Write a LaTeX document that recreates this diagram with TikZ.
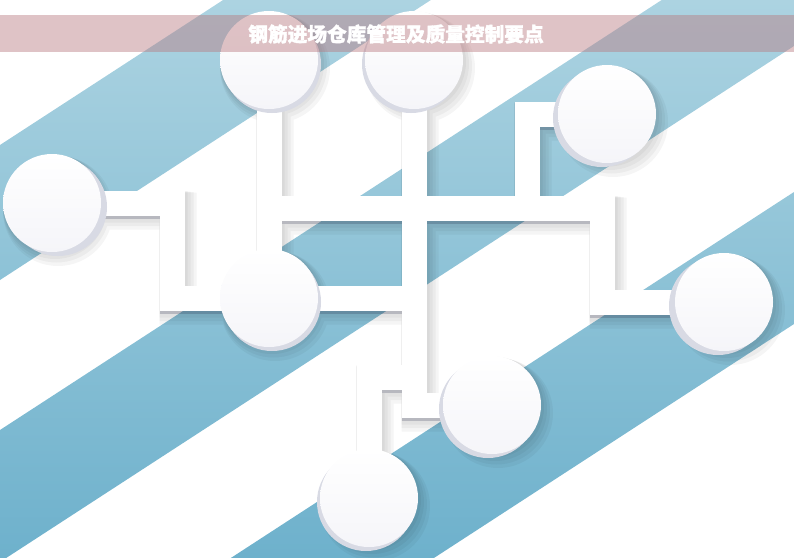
\documentclass[tikz,border=0pt]{standalone}
\usepackage{fontspec}
\newfontfamily\cjk{Noto Sans CJK SC}[BoldFeatures={FakeBold=1.6}]
\usepackage{tikz}
\usetikzlibrary{calc}
\definecolor{stripetop}{RGB}{172,211,225}
\definecolor{stripebot}{RGB}{110,177,204}
\definecolor{rimgray}{RGB}{216,218,228}
\definecolor{facebot}{RGB}{245,245,249}
\definecolor{shadeblue}{RGB}{45,52,85}
\definecolor{bannerpink}{RGB}{185,122,128}

% all bars of the network in one path
\newcommand{\wires}[1]{%
    \draw[#1] (lc) -| (k1) -- (k2)
        (t1) -- (cm)
        (k3) -| (k4) -- (rc)
        (t3) -| (k5)
        (t2) |- (b2)
        (k6) -| (b1);
}

\begin{document}
\begin{tikzpicture}[x=1pt, y=-1pt,
        wire/.style={line width=25pt, line join=miter},
        disc/.style={circle, minimum size=98pt, inner sep=0pt, top color=white, bottom color=facebot}]
    \useasboundingbox (0,0) rectangle (794,557);
    % diagonal stripes
    \begin{scope}
        \clip \foreach \ca/\cb in {145/280, 430/562, 708/840} {(0,\ca) -- (794,\ca-516) -- (794,\cb-516) -- (0,\cb) -- cycle};
        \shade[top color=stripetop, bottom color=stripebot] (0,0) rectangle (794,557);
    \end{scope}

    \coordinate (lc) at (52,203);
    \coordinate (t1) at (269,60);
    \coordinate (t2) at (414,60);
    \coordinate (t3) at (607,114);
    \coordinate (cm) at (269,298);
    \coordinate (rc) at (724,302);
    \coordinate (b1) at (369,498);
    \coordinate (b2) at (492,405);
    \coordinate (k1) at (172,298);
    \coordinate (k2) at (414,298);
    \coordinate (k3) at (269,208);
    \coordinate (k4) at (602,302);
    \coordinate (k5) at (527,208);
    \coordinate (k6) at (414,377);

    % soft shadow
    \foreach \d in {1,...,4}{
        \begin{scope}[transparency group, opacity=0.04]
            \path (0,0) rectangle (794,557);
            \begin{scope}[transform canvas={shift={(1.5*\d,2*\d)}}]
                \wires{wire, line width={(25+3*\d)*1pt}}
                \foreach \c in {lc,t1,t2,t3,cm,rc,b1,b2}
                    \fill (\c) circle (49+1.5*\d);
            \end{scope}
        \end{scope}
    }
    \begin{scope}[transform canvas={shift={(0,3)}}]
        \wires{wire, draw=shadeblue, opacity=0.2}
    \end{scope}
    \wires{wire, draw=white}

    % round pads
    \foreach \c/\dx in {lc/6, t1/3, t2/-3, t3/-5, cm/3, rc/-6, b1/-3, b2/-4}{
        \fill[rimgray] ($(\c)+(\dx,4)$) circle (49);
        \node[disc] (pad-\c) at (\c) {};
    }

    \fill[bannerpink, opacity=0.45] (0,15) rectangle (794,52);
    \node[text=white, font=\cjk\bfseries\fontsize{19.7pt}{20pt}\selectfont] (title) at (396,34) {钢筋进场仓库管理及质量控制要点};
\end{tikzpicture}
\end{document}
